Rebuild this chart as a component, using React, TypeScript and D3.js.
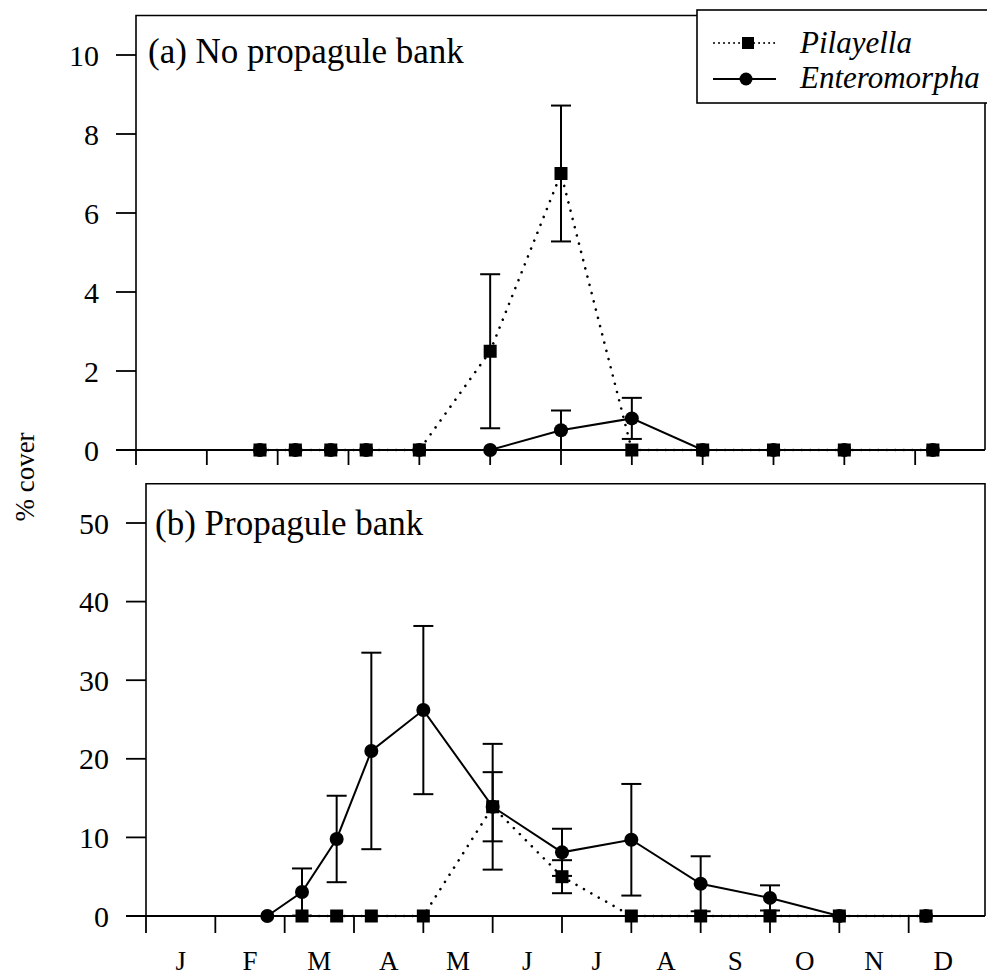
import { useEffect, useRef } from 'react';
import * as d3 from 'd3';

const monthLabels = ['J', 'F', 'M', 'A', 'M', 'J', 'J', 'A', 'S', 'O', 'N', 'D'];
// sampling dates, in months from 1 January
const sampleMonths = [1.75, 2.25, 2.75, 3.25, 4.0, 5.0, 6.0, 7.0, 8.0, 9.0, 10.0, 11.25];

// (a) no propagule bank
const pilayellaA = [0, 0, 0, 0, 0, 2.5, 7.0, 0, 0, 0, 0, 0];
const pilayellaAErr = [0, 0, 0, 0, 0, 1.95, 1.72, 0, 0, 0, 0, 0];
const enteromorphaA = [0, 0, 0, 0, 0, 0, 0.5, 0.8, 0, 0, 0, 0];
const enteromorphaAErr = [0, 0, 0, 0, 0, 0, 0.5, 0.52, 0, 0, 0, 0];

// (b) propagule bank
const pilayellaB = [NaN, 0, 0, 0, 0, 13.9, 5.0, 0, 0, 0, 0, 0];
const pilayellaBErr = [0, 0, 0, 0, 0, 4.4, 2.1, 0, 0, 0, 0, 0];
const enteromorphaB = [0, 3.05, 9.8, 21.0, 26.2, 13.9, 8.1, 9.7, 4.1, 2.3, 0, 0];
const enteromorphaBErr = [0, 3.0, 5.5, 12.5, 10.7, 8.0, 3.0, 7.1, 3.5, 1.6, 0, 0];

const ticksA = [0, 2, 4, 6, 8, 10];
const ticksB = [0, 10, 20, 30, 40, 50];

const FONT = '"Liberation Serif", "Times New Roman", serif';

export default function App() {
	const ref = useRef<SVGSVGElement | null>(null);

	useEffect(() => {
		if (!ref.current) return;
		const svg = d3.select(ref.current);
		svg.selectAll('*').remove();

		const rightEdge = 985;

		const drawPanel = (opts: {
			x: d3.ScaleLinear<number, number>;
			y: d3.ScaleLinear<number, number>;
			yMax: number;
			ticks: number[];
			pil: number[];
			pilErr: number[];
			ent: number[];
			entErr: number[];
			title: string;
			titleX: number;
			titleY: number;
			legendCut: boolean;
			tickLen: number;
		}) => {
			const { x, y, yMax, ticks, pil, pilErr, ent, entErr } = opts;
			const g = svg.append('g');
			const x0 = x(0);
			const y0 = y(0);
			const yTop = y(yMax);

			// frame
			if (opts.legendCut) {
				g.append('path')
					.attr('d', `M${x0},${y0}V${yTop}H697`)
					.attr('fill', 'none')
					.attr('stroke', '#000')
					.attr('stroke-width', 1.6);
				g.append('path')
					.attr('d', `M${rightEdge},103V${y0}`)
					.attr('fill', 'none')
					.attr('stroke', '#000')
					.attr('stroke-width', 1.6);
			} else {
				g.append('path')
					.attr('d', `M${x0},${y0}V${yTop}H${rightEdge}V${y0}`)
					.attr('fill', 'none')
					.attr('stroke', '#000')
					.attr('stroke-width', 1.6);
			}

			// zero line
			g.append('line')
				.attr('x1', x0 - 20)
				.attr('x2', rightEdge)
				.attr('y1', y0)
				.attr('y2', y0)
				.attr('stroke', '#000')
				.attr('stroke-width', 2);

			// y ticks
			ticks.forEach(t => {
				g.append('line')
					.attr('x1', x0 - 20)
					.attr('x2', x0)
					.attr('y1', y(t))
					.attr('y2', y(t))
					.attr('stroke', '#000')
					.attr('stroke-width', 1.8);
				g.append('text')
					.attr('x', x0 - 37)
					.attr('y', y(t))
					.attr('dy', '0.35em')
					.attr('text-anchor', 'end')
					.style('font-family', FONT)
					.style('font-size', '30px')
					.text(t);
			});

			// x ticks at month boundaries
			d3.range(0, 12).forEach(m => {
				g.append('line')
					.attr('x1', x(m))
					.attr('x2', x(m))
					.attr('y1', y0)
					.attr('y2', y0 + opts.tickLen)
					.attr('stroke', '#000')
					.attr('stroke-width', 1.8);
			});

			g.append('text')
				.attr('x', opts.titleX)
				.attr('y', opts.titleY)
				.style('font-family', FONT)
				.style('font-size', '35px')
				.text(opts.title);

			const line = d3
				.line<number>()
				.defined(d => !isNaN(d))
				.x((_, i) => x(sampleMonths[i]))
				.y(d => y(d));

			// error bars
			const errs = (vals: number[], err: number[]) => {
				vals.forEach((v, i) => {
					if (isNaN(v) || !err[i]) return;
					const cx = x(sampleMonths[i]);
					const lo = Math.max(0, v - err[i]);
					const hi = v + err[i];
					g.append('line')
						.attr('x1', cx)
						.attr('x2', cx)
						.attr('y1', y(lo))
						.attr('y2', y(hi))
						.attr('stroke', '#000')
						.attr('stroke-width', 2);
					[lo, hi].forEach(b => {
						if (b <= 0) return;
						g.append('line')
							.attr('x1', cx - 10)
							.attr('x2', cx + 10)
							.attr('y1', y(b))
							.attr('y2', y(b))
							.attr('stroke', '#000')
							.attr('stroke-width', 2);
					});
				});
			};
			errs(ent, entErr);
			errs(pil, pilErr);

			g.append('path')
				.datum(ent)
				.attr('d', line)
				.attr('fill', 'none')
				.attr('stroke', '#000')
				.attr('stroke-width', 2);

			g.append('path')
				.datum(pil)
				.attr('d', line)
				.attr('fill', 'none')
				.attr('stroke', '#000')
				.attr('stroke-width', 2.6)
				.attr('stroke-linecap', 'round')
				.attr('stroke-dasharray', '0.01 8.5');

			ent.forEach((v, i) => {
				g.append('circle')
					.attr('cx', x(sampleMonths[i]))
					.attr('cy', y(v))
					.attr('r', 7)
					.attr('fill', '#000');
			});
			pil.forEach((v, i) => {
				if (isNaN(v)) return;
				g.append('rect')
					.attr('x', x(sampleMonths[i]) - 6.5)
					.attr('y', y(v) - 6.5)
					.attr('width', 13)
					.attr('height', 13)
					.attr('fill', '#000');
			});
		};

		const xA = d3.scaleLinear().domain([0, 12]).range([136, 986]);
		const yA = d3.scaleLinear().domain([0, 10]).range([450, 55]);
		const xB = d3.scaleLinear().domain([0, 12]).range([146, 978]);
		const yB = d3.scaleLinear().domain([0, 50]).range([916, 523]);

		drawPanel({
			x: xA,
			y: yA,
			yMax: 11,
			ticks: ticksA,
			pil: pilayellaA,
			pilErr: pilayellaAErr,
			ent: enteromorphaA,
			entErr: enteromorphaAErr,
			title: '(a) No propagule bank',
			titleX: 148,
			titleY: 63,
			legendCut: true,
			tickLen: 15,
		});

		drawPanel({
			x: xB,
			y: yB,
			yMax: 55,
			ticks: ticksB,
			pil: pilayellaB,
			pilErr: pilayellaBErr,
			ent: enteromorphaB,
			entErr: enteromorphaBErr,
			title: '(b) Propagule bank',
			titleX: 155,
			titleY: 535,
			legendCut: false,
			tickLen: 17,
		});

		// month labels
		monthLabels.forEach((m, i) => {
			svg.append('text')
				.attr('x', xB(i + 0.5))
				.attr('y', 970)
				.attr('text-anchor', 'middle')
				.style('font-family', FONT)
				.style('font-size', '27px')
				.text(m);
		});

		// y title
		svg.append('text')
			.attr('transform', 'translate(34,477) rotate(-90)')
			.attr('text-anchor', 'middle')
			.style('font-family', FONT)
			.style('font-size', '27px')
			.text('% cover');

		// legend
		const lg = svg.append('g');
		lg.append('rect')
			.attr('x', 697)
			.attr('y', 10)
			.attr('width', 300)
			.attr('height', 93)
			.attr('fill', '#fff')
			.attr('stroke', '#000')
			.attr('stroke-width', 1.6);
		lg.append('line')
			.attr('x1', 714)
			.attr('x2', 776)
			.attr('y1', 43)
			.attr('y2', 43)
			.attr('stroke', '#000')
			.attr('stroke-width', 2)
			.attr('stroke-linecap', 'round')
			.attr('stroke-dasharray', '0.01 5');
		lg.append('rect')
			.attr('x', 742)
			.attr('y', 37)
			.attr('width', 12)
			.attr('height', 12)
			.attr('fill', '#000');
		lg.append('line')
			.attr('x1', 713)
			.attr('x2', 776)
			.attr('y1', 79)
			.attr('y2', 79)
			.attr('stroke', '#000')
			.attr('stroke-width', 2);
		lg.append('circle')
			.attr('cx', 746)
			.attr('cy', 79)
			.attr('r', 6.5)
			.attr('fill', '#000');
		[
			['Pilayella', 53],
			['Enteromorpha', 88],
		].forEach(([t, yy]) => {
			lg.append('text')
				.attr('x', 800)
				.attr('y', yy as number)
				.style('font-family', FONT)
				.style('font-style', 'italic')
				.style('font-size', '31px')
				.text(t as string);
		});
	}, []);

	return (
		<svg
			ref={ref}
			width={987}
			height={978}
			style={{ position: 'absolute', left: 0, top: 0, background: '#fff' }}
		/>
	);
}
